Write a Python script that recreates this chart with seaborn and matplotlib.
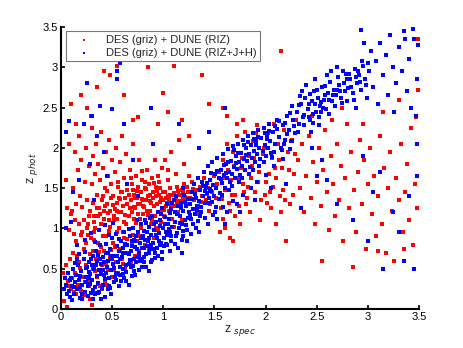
import matplotlib
matplotlib.use("Agg")
import matplotlib.pyplot as plt
import seaborn as sns
import numpy as np
import pandas as pd

# Points (z_spec, z_phot)
# DES (griz) + DUNE (RIZ) -- red
red_low = [(0.05,0.55),(0.07,0.35),(0.09,0.62),(0.10,0.25),(0.12,0.70),(0.14,0.45),(0.15,0.85),(0.17,0.30),(0.18,0.58),(0.20,0.92),
           (0.21,0.40),(0.22,0.75),(0.24,0.55),(0.25,1.00),(0.26,0.35),(0.28,0.68),(0.29,0.88),(0.30,0.05),(0.31,0.50),(0.32,0.95),
           (0.34,0.62),(0.35,0.40),(0.36,0.82),(0.38,0.28),(0.39,1.05),(0.40,0.55),(0.42,0.72),(0.43,0.35),(0.44,0.90),(0.46,0.48),
           (0.47,1.10),(0.48,0.65),(0.50,0.40),(0.51,0.82),(0.52,1.15),(0.54,0.58),(0.55,0.95),(0.56,0.45),(0.58,0.75),(0.59,1.20),
           (0.60,0.62),(0.62,0.88),(0.63,0.50),(0.64,1.05),(0.66,0.70),(0.67,1.25),(0.68,0.58),(0.70,0.92),(0.71,1.12),(0.72,0.66),
           (0.74,0.85),(0.75,1.30),(0.76,0.72),(0.78,1.00),(0.79,0.62),(0.80,1.18),(0.82,0.80),(0.83,1.35),(0.84,0.95),(0.86,0.74),
           (0.87,1.22),(0.88,1.05),(0.90,1.38),(0.91,0.88),(0.92,1.15),(0.94,1.30),(0.95,0.98),(0.96,1.42),(0.98,1.08),(0.99,1.25),
           (0.15,0.18),(0.20,0.22),(0.28,0.12),(0.33,0.20),(0.40,0.25),(0.45,0.30),(0.02,0.45),(0.03,0.10),(0.06,0.02)]
red_low2 = [(0.11,0.38),(0.19,0.51),(0.27,0.29),(0.33,0.47),(0.37,0.71),(0.44,0.56),(0.53,0.77),(0.61,0.96),(0.69,0.81),(0.77,0.91),
            (0.85,1.17),(0.93,1.01),(1.01,1.23),(0.23,0.33),(0.31,0.72),(0.41,0.91),(0.49,0.73),(0.57,1.01),(0.65,0.87),(0.73,1.07),
            (0.81,1.27),(0.89,1.11),(0.97,1.33),(1.06,1.36),(1.14,1.47),(1.21,1.39),(1.29,1.49),(1.37,1.33),(1.43,1.43),(1.09,1.41),
            (0.16,0.66),(0.24,0.82),(0.32,0.86),(0.39,0.77),(0.47,0.97),(0.55,1.12),(0.63,1.17),(0.71,1.27),(0.79,1.36),(0.87,1.41),
            (0.94,1.47),(1.03,1.38),(1.13,1.33),(1.16,1.41),(1.23,1.51),(0.07,0.28),(0.13,0.21),(0.22,0.17),(0.36,0.31),(0.52,0.49),
            (0.61,0.56),(0.42,1.22),(0.51,1.29),(0.58,1.36),(0.66,1.41),(0.74,1.46),(0.83,1.49),(0.91,1.56),(0.36,1.16),(0.27,1.15),
            (0.18,1.06),(0.45,1.46),(0.56,1.51),(0.68,1.62),(0.79,1.71),(0.31,1.31),(0.21,1.27),(0.13,0.93),(0.33,1.01),(0.46,1.19)]
red_dense = [(0.32,1.08),(0.38,1.18),(0.43,1.28),(0.48,1.02),(0.53,1.24),(0.57,1.38),(0.62,1.08),(0.65,1.30),(0.69,1.20),(0.72,1.38),
             (0.77,1.12),(0.80,1.28),(0.84,1.22),(0.87,1.34),(0.91,1.28),(0.93,1.40),(0.97,1.20),(1.00,1.45),(1.04,1.32),(1.07,1.42),
             (1.11,1.35),(1.14,1.30),(1.19,1.45),(1.23,1.38),(0.41,1.40),(0.49,1.38),(0.60,1.45),(0.70,1.48),(0.82,1.58),(0.96,1.58),
             (0.26,0.92),(0.35,1.25),(0.55,1.22),(0.75,1.18),(0.98,1.38),(1.08,1.28)]
red_mid = [(1.00,1.35),(1.01,1.15),(1.02,1.45),(1.03,1.28),(1.04,1.05),(1.05,1.40),(1.06,1.22),(1.07,1.50),(1.08,1.32),(1.09,1.12),
           (1.10,1.44),(1.11,1.28),(1.12,1.38),(1.13,1.52),(1.14,1.20),(1.15,1.42),(1.16,1.34),(1.17,1.25),(1.18,1.48),(1.19,1.36),
           (1.20,1.55),(1.22,1.30),(1.24,1.45),(1.26,1.38),(1.28,1.58),(1.30,1.35),(1.32,1.48),(1.34,1.28),(1.36,1.52),(1.38,1.40),
           (1.40,1.62),(1.42,1.35),(1.44,1.50),(1.46,1.30),(1.48,1.45),(1.50,1.65),(1.05,1.60),(1.10,1.02),(1.18,1.10),(1.25,1.65),
           (1.33,1.18),(1.45,1.22)]
red_cloud = [(0.05,1.60),(0.06,1.25),(0.08,2.05),(0.10,1.18),(0.12,1.50),(0.14,1.95),(0.15,1.30),(0.17,1.72),(0.18,2.15),(0.19,1.40),
             (0.20,1.85),(0.22,1.10),(0.23,1.58),(0.24,2.00),(0.25,1.35),(0.27,1.78),(0.28,1.22),(0.29,2.40),(0.30,1.55),(0.31,1.90),
             (0.32,1.15),(0.33,1.68),(0.34,2.05),(0.35,1.42),(0.36,1.80),(0.37,1.25),(0.38,1.60),(0.39,2.20),(0.40,1.35),(0.41,1.75),
             (0.42,1.12),(0.43,1.50),(0.44,1.95),(0.45,1.30),(0.46,1.65),(0.47,2.10),(0.48,1.22),(0.49,1.55),(0.50,1.85),(0.51,1.40),
             (0.52,1.10),(0.53,1.70),(0.54,2.00),(0.55,1.32),(0.56,1.58),(0.57,1.20),(0.58,1.82),(0.59,1.45),(0.60,2.15),(0.61,1.28),
             (0.62,1.62),(0.63,1.38),(0.64,1.92),(0.65,1.48),(0.66,1.15),(0.67,1.72),(0.68,1.35),(0.69,1.55),(0.70,2.05),(0.71,1.42),
             (0.72,1.25),(0.73,1.65),(0.74,1.38),(0.75,1.52),(0.76,1.85),(0.77,1.30),(0.78,1.45),(0.79,1.60),(0.80,1.35),(0.82,1.50),
             (0.84,1.72),(0.85,1.40),(0.86,1.55),(0.88,1.32),(0.89,1.62),(0.90,1.45),(0.92,1.85),(0.93,1.52),(0.95,1.65),(0.97,1.50),
             (0.99,1.75),(1.02,1.85),(1.05,1.72),(1.08,1.95),(1.12,1.68),(1.15,2.10),(1.20,1.80),(0.14,1.10),(0.21,0.95),(0.11,1.22),
             (0.26,1.05),(0.08,0.98)]
red_top = [(0.10,2.55),(0.20,2.65),(0.25,2.50),(0.35,2.75),(0.48,2.90),(0.55,3.02),(0.62,2.65),(0.70,2.35),(0.85,3.00),(0.75,2.38),
           (0.95,2.30),(1.00,2.68),(1.10,3.02),(1.38,2.90),(1.45,2.55),(1.58,2.50),(0.42,2.95),(0.30,2.25),(1.25,2.15),(1.18,2.35),
           (0.15,2.30),(2.15,3.20),(1.05,2.45)]
red_band = [(1.52,1.38),(1.54,1.70),(1.56,1.25),(1.58,1.85),(1.60,1.48),(1.62,2.05),(1.64,1.32),(1.66,1.60),(1.68,1.95),(1.70,1.42),
            (1.72,2.15),(1.74,1.28),(1.76,1.75),(1.78,1.55),(1.80,2.20),(1.82,1.38),(1.84,1.90),(1.86,1.62),(1.88,2.08),(1.90,1.45),
            (1.92,2.28),(1.94,1.70),(1.96,1.35),(1.98,2.00),(2.00,1.58),(2.02,2.18),(2.04,1.45),(2.06,1.88),(2.08,2.30),(2.10,1.62),
            (2.12,2.05),(2.14,1.40),(2.16,1.75),(2.18,2.22),(2.20,1.55),(2.22,1.95),(2.24,1.30),(2.26,2.10),(2.28,1.68),(2.30,2.35),
            (1.60,1.00),(1.65,0.88),(1.70,1.15),(1.55,0.95),(1.75,1.05),(1.85,1.20),(1.95,1.10),(2.05,1.25),(1.62,2.40),(1.78,2.35),
            (1.58,1.12),(1.68,0.85)]
red_band2 = [(1.53,1.55),(1.57,1.36),(1.63,1.72),(1.67,1.42),(1.73,1.62),(1.77,1.88),(1.83,1.52),(1.87,1.78),(1.93,1.58),(1.97,1.92),
             (2.03,1.68),(2.07,1.52),(2.13,1.85),(2.17,1.48),(2.23,1.72),(2.27,1.42),(1.59,1.62),(1.69,1.78),(1.79,1.45),(1.89,1.88),
             (1.99,1.42),(2.09,1.75),(2.19,1.35),(2.29,1.92),(1.65,1.22),(1.81,1.30),(2.01,1.32),(2.15,1.20),(1.72,2.30),(1.91,2.18)]
red_high = [(2.32,1.85),(2.34,1.50),(2.36,2.05),(2.38,1.20),(2.40,1.65),(2.42,2.15),(2.44,1.38),(2.46,1.82),(2.48,1.05),(2.50,1.58),
            (2.52,2.00),(2.54,1.28),(2.56,1.72),(2.58,2.22),(2.60,1.45),(2.62,0.98),(2.64,1.90),(2.66,1.55),(2.68,1.15),(2.70,2.05),
            (2.72,1.35),(2.74,1.78),(2.76,0.85),(2.78,1.62),(2.80,2.30),(2.82,1.25),(2.84,1.95),(2.86,1.48),(2.88,0.95),(2.90,1.70),
            (2.92,2.10),(2.94,1.30),(2.96,1.85),(2.98,0.75),(3.00,1.55),(3.02,2.00),(3.04,1.18),(3.06,1.65),(3.08,0.90),(3.10,1.40),
            (3.12,2.15),(3.14,1.05),(3.16,1.75),(3.18,0.70),(3.20,1.50),(3.22,1.95),(3.24,1.22),(3.26,0.60),(3.28,1.62),(3.30,1.35),
            (3.32,2.05),(3.34,0.95),(3.36,1.45),(3.38,1.80),(3.40,1.10),(3.42,2.25),(3.44,0.80),(3.46,1.55),(3.48,1.25),(3.49,2.72),
            (3.49,3.35),(3.47,2.38),(2.85,0.52),(3.35,0.75),(3.10,0.72),(2.55,0.60),(2.20,0.85),(2.10,1.05),(2.45,2.40),(2.65,2.35),
            (2.95,2.30),(3.15,2.45),(3.30,2.60),(2.75,2.50)]

# DES (griz) + DUNE (RIZ+J+H) -- blue
blue_core = [(0.05,0.30),(0.07,0.45),(0.08,0.22),(0.10,0.38),(0.11,0.28),(0.12,0.50),(0.13,0.18),(0.14,0.33),(0.15,0.42),(0.09,0.15),
             (0.16,0.25),(0.17,0.55),(0.18,0.36),(0.19,0.14),(0.20,0.47),(0.21,0.30),(0.22,0.62),(0.23,0.21),(0.24,0.40),(0.25,0.52),
             (0.18,0.68),(0.21,0.12),(0.24,0.33),(0.26,0.28),(0.27,0.58),(0.28,0.44),(0.29,0.20),(0.30,0.36),(0.31,0.66),(0.32,0.50),
             (0.33,0.27),(0.34,0.72),(0.35,0.41),(0.27,0.38),(0.30,0.55),(0.33,0.18),(0.35,0.60),(0.36,0.32),(0.37,0.48),(0.38,0.80),
             (0.39,0.56),(0.40,0.26),(0.41,0.64),(0.42,0.42),(0.43,0.37),(0.44,0.70),(0.45,0.52),(0.38,0.62),(0.41,0.30),(0.44,0.45),
             (0.46,0.60),(0.47,0.38),(0.48,0.75),(0.49,0.48),(0.50,0.88),(0.51,0.56),(0.52,0.34),(0.53,0.66),(0.54,0.45),(0.55,0.78),
             (0.47,0.92),(0.50,0.62),(0.53,0.40),(0.56,0.58),(0.57,0.72),(0.58,0.42),(0.59,0.85),(0.60,0.64),(0.61,0.50),(0.62,0.95),
             (0.63,0.70),(0.64,0.55),(0.65,0.80),(0.58,0.62),(0.61,0.76),(0.64,0.46),(0.66,0.68),(0.67,0.90),(0.68,0.52),(0.69,0.78),
             (0.70,1.00),(0.71,0.62),(0.72,0.85),(0.73,0.58),(0.74,0.74),(0.75,0.95),(0.68,0.72),(0.71,0.86),(0.74,0.64),(0.76,0.70),
             (0.77,0.82),(0.78,1.05),(0.79,0.62),(0.80,0.90),(0.81,0.76),(0.82,1.10),(0.83,0.68),(0.84,0.96),(0.85,0.84),(0.78,0.88),
             (0.81,0.58),(0.84,0.78),(0.86,1.02),(0.87,0.74),(0.88,0.92),(0.89,1.15),(0.90,0.82),(0.91,0.98),(0.92,0.70),(0.93,1.08),
             (0.94,0.88),(0.95,1.20),(0.88,0.80),(0.91,1.06),(0.94,0.76),(0.96,0.94),(0.97,1.10),(0.98,0.82),(0.99,1.25),(1.00,1.00),
             (1.01,0.88),(1.02,1.14),(1.03,0.96),(1.04,1.30),(1.05,1.05),(0.98,1.18),(1.01,0.78),(1.04,0.92),(1.06,1.12),(1.07,0.95),
             (1.08,1.24),(1.09,1.02),(1.10,1.35),(1.11,1.08),(1.12,0.90),(1.13,1.18),(1.14,1.28),(1.15,1.00),(1.08,0.85),(1.12,1.40),
             (1.16,1.15),(1.17,1.32),(1.18,1.05),(1.19,1.22),(1.20,1.42),(1.21,1.10),(1.22,1.28),(1.23,0.98),(1.24,1.36),(1.25,1.20),
             (1.19,1.50),(1.26,1.30),(1.27,1.12),(1.28,1.45),(1.29,1.24),(1.30,1.55),(1.31,1.18),(1.32,1.38),(1.33,1.28),(1.34,1.62),
             (1.35,1.34),(1.29,1.05),(1.36,1.48),(1.37,1.26),(1.38,1.58),(1.39,1.40),(1.40,1.70),(1.41,1.32),(1.42,1.52),(1.43,1.44),
             (1.44,1.78),(1.45,1.38),(1.46,1.60),(1.47,1.46),(1.48,1.82),(1.49,1.54),(1.50,1.40),(1.51,1.68),(1.52,1.50),(1.53,1.88),
             (1.54,1.62),(1.55,1.44),(1.56,1.72),(1.57,1.56),(1.58,1.92),(1.59,1.66),(1.60,1.50),(1.61,1.80),(1.62,1.62),(1.63,1.98),
             (1.64,1.70),(1.65,1.58),(1.66,1.84),(1.67,1.68),(1.68,2.02),(1.69,1.76),(1.70,1.62),(1.71,1.90),(1.72,1.74),(1.73,2.05),
             (1.74,1.82),(1.75,1.66),(1.76,1.94),(1.77,1.78),(1.78,2.10),(1.79,1.86),(1.80,1.72),(1.81,2.00),(1.82,1.84),(1.83,2.15),
             (1.84,1.92),(1.85,1.76),(1.86,2.04),(1.87,1.88),(1.88,2.18),(1.89,1.96),(1.90,1.82),(1.91,2.08),(1.92,1.92),(1.93,2.22),
             (1.94,2.00),(1.95,1.86),(1.96,2.12),(1.97,1.96),(1.98,2.25),(1.99,2.04),(2.00,1.90),(2.01,2.16),(2.02,2.00),(2.03,2.30),
             (2.04,2.08),(2.05,1.94),(2.07,2.20),(2.09,2.05),(2.11,2.35),(2.13,2.14),(2.15,2.00),(2.17,2.28),(2.19,2.10),(2.21,2.40),
             (2.23,2.22),(2.25,2.08),(2.27,2.34),(2.29,2.18)]
blue_core2 = [(0.13,0.27),(0.27,0.46),(0.06,0.19),(0.19,0.41),(0.31,0.24),(0.42,0.58),(0.23,0.71),(0.36,0.67),(0.47,0.29),(0.16,0.62),
              (0.54,0.93),(0.62,0.38),(0.33,0.83),(0.49,0.66),(0.58,0.52),(0.71,0.47),(0.66,0.99),(0.77,0.59),(0.83,1.07),(0.69,0.84),
              (0.92,0.63),(0.86,0.88),(0.97,1.03),(1.03,0.81),(0.74,1.10),(0.81,0.97),(1.07,1.19),(1.13,0.94),(0.99,0.71),(1.17,1.26),
              (1.22,1.04),(1.09,1.31),(1.26,1.17),(1.31,1.43),(1.18,0.86),(1.37,1.21),(1.43,1.57),(1.34,1.09),(1.48,1.33),(1.53,1.71),
              (1.41,1.46),(1.57,1.41),(1.63,1.83),(1.52,1.27),(1.67,1.53),(1.73,1.93),(1.61,1.69),(1.77,1.63),(1.83,2.07),(1.71,1.81),
              (1.88,1.73),(1.93,2.13),(1.81,1.91),(1.98,1.83),(2.03,2.21),(1.91,2.03),(2.08,1.95),(2.13,2.33),(2.01,2.11),(2.18,2.05),
              (2.24,2.43),(2.11,2.24),(2.28,2.27),(2.33,2.53),(2.21,2.17),(2.38,2.41),(2.43,2.67),(2.46,2.31),(2.54,2.57),(2.58,2.77),
              (0.09,0.36),(0.21,0.19),(0.29,0.62),(0.39,0.44),(0.44,0.81),(0.52,0.51),(0.57,0.87),(0.61,0.69),(0.67,0.61),(0.73,0.91),
              (0.79,0.76),(0.87,1.13),(0.93,0.92),(1.02,1.06),(1.11,1.21),(1.21,1.33),(1.28,1.37),(1.39,1.53),(1.46,1.49),(1.56,1.61),
              (0.03,0.25),(0.04,0.38),(0.11,0.11),(0.26,0.16),(0.37,0.21),(0.48,0.26),(0.59,0.35),(0.69,0.41),(0.79,0.52),(0.89,0.61),
              (0.16,0.79),(0.23,0.86),(0.29,0.94),(0.37,0.98),(0.43,1.04),(0.51,1.07),(0.14,0.57),(0.24,0.51),(0.34,0.54),(0.46,0.69),
              (0.55,0.66),(0.63,0.81),(0.72,0.77),(0.82,0.86),(0.96,0.85),(1.06,0.99),(1.16,1.07),(1.24,1.13),(1.33,1.23),(1.44,1.31),
              (1.54,1.36),(1.64,1.48),(1.74,1.58),(1.84,1.68),(1.94,1.77),(2.06,1.89),(2.16,1.97),(2.26,2.09),(1.47,1.69),(1.59,1.79),
              (1.69,1.97),(1.79,2.03),(1.89,2.11),(1.99,2.19),(2.09,2.27),(2.19,2.31),(0.19,0.27),(0.28,0.31),(0.41,0.49),(0.56,0.43),
              (0.66,0.56),(0.76,0.64),(0.86,0.69),(0.97,0.79),(1.08,0.91),(1.19,0.97),(1.36,1.16),(1.51,1.21)]
blue_edge = [(0.31,0.12),(0.36,0.20),(0.39,0.13),(0.46,0.25),(0.49,0.19),(0.54,0.36),(0.57,0.28),(0.61,0.43),(0.64,0.35),(0.70,0.53),
             (0.72,0.42),(0.76,0.49),(0.81,0.64),(0.83,0.52),(0.88,0.58),(0.91,0.74),(0.95,0.66),(0.99,0.62),(1.04,0.79),(1.07,0.72),
             (1.11,0.81),(1.14,0.76),(1.19,0.90),(1.23,0.85),(1.27,0.93),(1.32,1.01),(1.35,0.95),(1.41,1.13),(1.44,1.06),(1.49,1.17),
             (1.53,1.12),(1.58,1.26),(1.62,1.20),(1.68,1.34),(1.72,1.30),(1.78,1.42),(1.86,1.50),(1.92,1.58),(2.00,1.66),(2.08,1.78),
             (2.17,1.86),(2.24,1.98),(0.43,0.15),(0.66,0.30),(0.86,0.47),(1.18,0.70)]
blue_upper = [(2.31,2.45),(2.33,2.30),(2.35,2.55),(2.37,2.38),(2.39,2.62),(2.41,2.48),(2.43,2.35),(2.45,2.58),(2.47,2.70),(2.49,2.44),
              (2.51,2.62),(2.53,2.52),(2.55,2.75),(2.57,2.60),(2.59,2.48),(2.61,2.68),(2.63,2.82),(2.65,2.58),(2.67,2.72),(2.69,2.65),
              (2.71,2.88),(2.73,2.70),(2.75,2.56),(2.77,2.80),(2.79,2.92),(2.81,2.74),(2.83,2.85),(2.85,2.68),(2.87,2.98),(2.89,2.80),
              (2.91,2.90),(2.93,2.72),(2.95,3.02),(2.97,2.86),(2.99,2.62),(3.01,2.95),(2.44,2.20),(2.52,2.38),(2.60,2.90),(2.70,3.00),
              (2.80,2.58),(2.88,2.50),(2.36,2.70),(2.48,2.85)]
blue_upper2 = [(2.26,2.52),(2.32,2.20),(2.34,2.64),(2.38,2.28),(2.40,2.78),(2.42,2.55),(2.46,2.42),(2.50,2.72),(2.52,2.28),(2.56,2.50),
               (2.58,2.66),(2.62,2.42),(2.64,2.95),(2.66,2.66),(2.68,2.52),(2.72,2.78),(2.74,2.62),(2.76,2.95),(2.78,2.70),(2.82,2.92),
               (2.84,2.76),(2.86,2.60),(2.90,2.95),(2.92,2.82),(2.94,3.08),(2.98,2.78),(3.00,3.05),(2.54,2.45),(2.62,2.60),(2.70,2.72),
               (2.80,2.85),(2.88,2.88),(2.42,2.38),(2.48,2.55)]
blue_top = [(3.03,3.20),(3.05,2.75),(3.08,3.08),(3.10,2.55),(3.12,3.30),(3.15,2.90),(3.18,3.15),(3.20,2.65),(3.22,3.40),(3.25,3.00),
            (3.28,2.80),(3.30,3.25),(3.33,2.95),(3.35,3.45),(3.38,2.70),(3.40,3.10),(3.42,2.50),(3.45,3.35),(3.48,2.85),(3.49,3.28),
            (3.47,2.40),(3.36,3.35),(3.26,2.45),(2.93,3.46),(2.96,3.30),(3.44,3.48)]
blue_out = [(0.05,2.20),(0.08,2.33),(0.25,2.80),(0.30,2.40),(0.38,2.52),(0.42,1.95),(0.50,2.48),(0.55,2.95),(0.58,3.05),(0.55,2.85),
            (0.35,2.15),(0.28,1.80),(0.45,1.65),(0.65,1.55),(0.62,2.30),(0.70,1.85),(0.18,1.60),(0.12,1.45),(0.32,1.35),(0.90,2.05),
            (0.75,1.40),(1.15,2.30),(1.35,2.00),(0.22,2.30),(0.88,2.50),(0.05,1.00),(0.10,1.08),(1.45,2.20),(1.60,2.50),
            (2.05,1.50),(2.20,1.55),(2.35,1.25),(2.55,1.85),(2.70,1.30),(2.85,1.10),(3.00,0.85),(3.12,1.70),(3.30,0.95),(3.45,0.50),
            (3.15,0.50),(3.40,1.40),(2.95,1.90),(2.50,1.65),(3.35,0.60),(1.75,1.20),(1.60,1.05),(1.90,1.35),(2.45,2.00),(2.60,1.60),
            (3.05,1.45),(3.25,1.20),(3.48,1.65),(3.48,2.05)]

red = pd.DataFrame(red_low + red_low2 + red_dense + red_mid + red_cloud + red_top + red_band + red_band2 + red_high,
                   columns=['zspec', 'zphot'])
blue = pd.DataFrame(blue_core + blue_core2 + blue_edge + blue_upper + blue_upper2 + blue_top + blue_out,
                    columns=['zspec', 'zphot'])

sns.set_style('white')
plt.rcParams['font.family'] = ['Liberation Sans', 'DejaVu Sans']

fig = plt.figure(figsize=(4.63, 3.48), dpi=100)
ax = fig.add_axes([61/463, 39/348, 358/463, 282/348])

sns.scatterplot(data=red, x='zspec', y='zphot', color='#ff0000', s=5, marker='s',
                linewidth=0, ax=ax, label='DES (griz) + DUNE (RIZ)')
sns.scatterplot(data=blue, x='zspec', y='zphot', color='#0000ff', s=5, marker='s',
                linewidth=0, ax=ax, label='DES (griz) + DUNE (RIZ+J+H)')

ax.set_xlim(0, 3.5)
ax.set_ylim(0, 3.5)
ax.set_xticks(np.arange(0, 3.51, 0.5))
ax.set_yticks(np.arange(0, 3.51, 0.5))
ax.set_xticklabels(['0', '0.5', '1', '1.5', '2', '2.5', '3', '3.5'])
ax.set_yticklabels(['0', '0.5', '1', '1.5', '2', '2.5', '3', '3.5'])
ax.tick_params(direction='in', length=3, width=1.2, labelsize=8, colors='black', pad=2,
               bottom=True, left=True, top=False, right=False)
for side in ['top', 'right']:
    ax.spines[side].set_visible(False)
for side in ['left', 'bottom']:
    ax.spines[side].set_color('black')
    ax.spines[side].set_linewidth(1.5)

ax.set_xlabel('z $_{spec}$', fontsize=9, labelpad=1)
ax.set_ylabel('z $_{phot}$', fontsize=9, labelpad=2)

leg = ax.legend(loc='upper left', bbox_to_anchor=(0.015, 0.985), fontsize=8, frameon=True,
                fancybox=False, borderpad=0.3, handlelength=2.5, handletextpad=0.8,
                labelspacing=0.3, markerscale=0.8, borderaxespad=0)
leg.get_frame().set_edgecolor('#555555')
leg.get_frame().set_linewidth(0.8)

fig.savefig('out.png', dpi=100)
